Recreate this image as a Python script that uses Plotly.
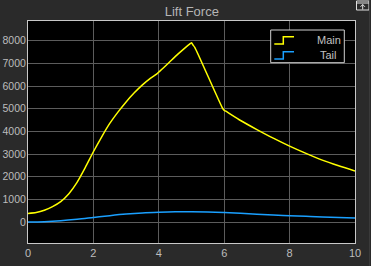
import plotly.graph_objects as go

# ---- data ----
time_main = [0, 0.25, 0.5, 0.75, 1.0, 1.25, 1.5, 1.75, 2.0, 2.25, 2.5, 2.75, 3.0, 3.25, 3.5,
             3.75, 3.95, 4.0, 4.05, 4.25, 4.5, 4.75, 4.97, 5.0, 5.05, 5.1, 5.95, 6.0, 6.05,
             6.5, 7.0, 7.5, 8.0, 8.5, 9.0, 9.5, 10.0]
main_force = [380, 420, 520, 680, 900, 1250, 1750, 2400, 3100, 3750, 4350, 4850, 5300, 5700, 6050,
              6350, 6550, 6620, 6680, 6950, 7300, 7620, 7880, 7910, 7800, 7710, 5020, 4930, 4890,
              4480, 4080, 3700, 3350, 3030, 2730, 2480, 2250]
time_tail = [0, 0.5, 1, 1.5, 2, 2.5, 3, 3.5, 4, 4.5, 5, 5.5, 6, 6.5, 7, 7.5, 8, 8.5, 9, 9.5, 10]
tail_force = [0, 15, 55, 120, 200, 280, 350, 400, 430, 450, 455, 445, 420, 385, 345, 310, 280,
              250, 220, 195, 175]
x_ticks = [0, 2, 4, 6, 8, 10]
y_ticks = [0, 1000, 2000, 3000, 4000, 5000, 6000, 7000, 8000]
series_names = ["Main", "Tail"]
series_colors = ["#ffff00", "#1aa0ff"]

W, H = 371, 266
L, R, T, B = 28, 16, 21, 23
pw, ph = W - L - R, H - T - B

def px(x):
    return (x - L) / pw

def py(y):
    return 1 - (y - T) / ph

fig = go.Figure()
fig.add_trace(go.Scatter(x=time_main, y=main_force, mode="lines", line_shape="spline",
                         line=dict(color=series_colors[0], width=1.5, smoothing=0.6),
                         name=series_names[0]))
fig.add_trace(go.Scatter(x=time_tail, y=tail_force, mode="lines", line_shape="spline",
                         line=dict(color=series_colors[1], width=1.5), name=series_names[1]))

grid = "#5c5c5c"
fig.update_layout(
    width=W, height=H,
    margin=dict(l=L, r=R, t=T, b=B, pad=0),
    paper_bgcolor="#2a2a2a", plot_bgcolor="#000000",
    showlegend=False,
    font=dict(family="Liberation Sans, Arial", size=11, color="#bdbdbd"),
    title=dict(text="Lift Force", x=px(191.8), xref="paper", xanchor="center",
               y=1 - 11 / H, yanchor="middle", font=dict(size=13, color="#b5b5b5")),
    xaxis=dict(range=[0, 10], tickvals=x_ticks, showgrid=True, gridcolor=grid, gridwidth=1,
               zeroline=False, showline=True, linecolor="#c8c8c8", linewidth=1, mirror=True,
               ticks="", automargin=False, ticklabelstandoff=0,
               tickfont=dict(size=11, color="#bdbdbd")),
    yaxis=dict(range=[-925, 8870], tickvals=y_ticks, showgrid=True, gridcolor=grid, gridwidth=1,
               zeroline=False, showline=True, linecolor="#c8c8c8", linewidth=1, mirror=True,
               ticks="", automargin=False, ticklabelstandoff=-1,
               tickfont=dict(size=10.5, color="#bdbdbd")),
)

shapes = []
# legend box
shapes.append(dict(type="rect", xref="paper", yref="paper",
                   x0=px(270.7), x1=px(344.3), y0=py(62.7), y1=py(30),
                   fillcolor="#000000", line=dict(color="#d0d0d0", width=1)))
for i, (name, col) in enumerate(zip(series_names, series_colors)):
    low = 44 + 15 * i
    high = 36.7 + 15 * i
    path = (f"M {px(274.3)},{py(low)} L {px(283.3)},{py(low)} L {px(283.3)},{py(high)} "
            f"L {px(294)},{py(high)}")
    shapes.append(dict(type="path", xref="paper", yref="paper", path=path,
                       line=dict(color=col, width=1.5)))
    fig.add_annotation(xref="paper", yref="paper", x=px(328.5), y=py(39.5 + 15 * i),
                       text=name, showarrow=False, xanchor="center", yanchor="middle",
                       font=dict(size=11, color="#c0c0c0"))
# top-right icon
shapes.append(dict(type="rect", xref="paper", yref="paper",
                   x0=px(356.5), x1=px(369), y0=py(10), y1=py(1),
                   line=dict(color="#e0e0e0", width=1), fillcolor="rgba(0,0,0,0)"))
shapes.append(dict(type="line", xref="paper", yref="paper",
                   x0=px(356.5), x1=px(369), y0=py(3), y1=py(3),
                   line=dict(color="#e0e0e0", width=1)))
shapes.append(dict(type="path", xref="paper", yref="paper",
                   path=f"M {px(362.7)},{py(9.5)} L {px(362.7)},{py(4.5)} M {px(360.5)},{py(6.8)} L {px(362.7)},{py(4.5)} L {px(364.9)},{py(6.8)}",
                   line=dict(color="#e0e0e0", width=1)))
# right edge strip
shapes.append(dict(type="line", xref="paper", yref="paper",
                   x0=px(369.5), x1=px(369.5), y0=py(0), y1=py(266),
                   line=dict(color="#3a3a3a", width=1)))
fig.update_layout(shapes=shapes)

fig.write_html("out.html")
